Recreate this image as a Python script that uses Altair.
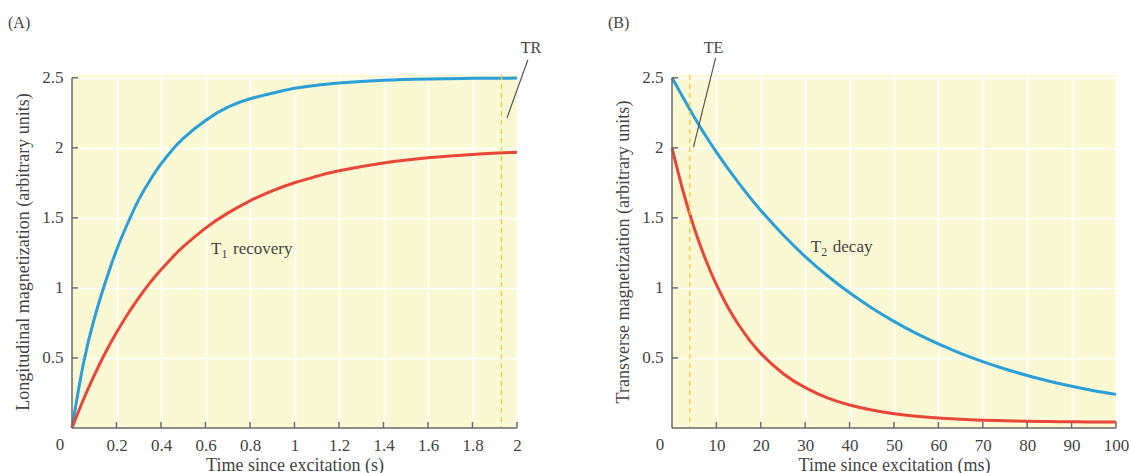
import altair as alt
import pandas as pd

# ---------------- Panel A : T1 recovery (time in s) ----------------
a_time = [0, 0.05, 0.1, 0.15, 0.2, 0.25, 0.3, 0.35, 0.4, 0.45, 0.5, 0.6, 0.7, 0.8, 0.9,
          1.0, 1.1, 1.2, 1.4, 1.6, 1.8, 2.0]
a_blue = [0, 0.45, 0.78, 1.04, 1.27, 1.46, 1.63, 1.767, 1.885, 1.984, 2.068, 2.195, 2.29, 2.35, 2.39,
          2.425, 2.447, 2.463, 2.482, 2.491, 2.496, 2.498]
a_red = [0, 0.198, 0.376, 0.537, 0.681, 0.812, 0.929, 1.036, 1.13, 1.216, 1.294, 1.427, 1.534, 1.622, 1.693,
         1.751, 1.797, 1.836, 1.892, 1.929, 1.953, 1.969]
a_xticks = [0.2, 0.4, 0.6, 0.8, 1.0, 1.2, 1.4, 1.6, 1.8, 2.0]
a_xmax = 2.0
tr_time = 1.93

# ---------------- Panel B : T2 decay (time in ms) ----------------
b_time = [0, 2.5, 5, 7.5, 10, 12.5, 15, 17.5, 20, 25, 30, 35, 40, 45, 50, 55, 60, 65, 70,
          75, 80, 85, 90, 95, 100]
b_blue = [2.50, 2.36, 2.22, 2.09, 1.97, 1.857, 1.75, 1.648, 1.553, 1.379, 1.224, 1.087, 0.965, 0.857, 0.761,
          0.675, 0.600, 0.533, 0.474, 0.421, 0.375, 0.334, 0.298, 0.266, 0.24]
b_red = [2.00, 1.690, 1.428, 1.208, 1.023, 0.868, 0.737, 0.626, 0.533, 0.389, 0.288, 0.215, 0.164, 0.128, 0.102,
         0.084, 0.071, 0.063, 0.056, 0.052, 0.048, 0.046, 0.044, 0.043, 0.042]
b_xticks = [10, 20, 30, 40, 50, 60, 70, 80, 90, 100]
b_xmax = 100
te_time = 4

y_ticks = [0.5, 1, 1.5, 2, 2.5]
series_names = ["fast", "slow"]

BLUE = "#2a9fd8"
RED = "#e8463b"
AXIS = "#6a6a6a"
TEXT = "#444444"
FONT = "Liberation Serif"
H = 353
YMAX = 2.52

ONE = pd.DataFrame({"k": [0]})


def panel(time, blue, red, xticks, xmax, xfmt, marker, marker_label, marker_line,
          ytitle, xtitle, letter, sub_label, width):
    n = len(time)
    df = pd.DataFrame({
        "t": time + time,
        "m": blue + red,
        "s": [series_names[0]] * n + [series_names[1]] * n,
    })
    xs = alt.Scale(domain=[0, xmax], nice=False, zero=False)
    ys = alt.Scale(domain=[0, YMAX], nice=False)

    lines = alt.Chart(df).mark_line(strokeWidth=3, interpolate="natural").encode(
        x=alt.X("t:Q", scale=xs, axis=alt.Axis(
            values=xticks, title=xtitle, format=xfmt, domain=False, ticks=False,
            grid=True, gridColor="#ffffff", gridWidth=1.6, labelPadding=9,
            titlePadding=3, labelOverlap=False, labelFlush=False)),
        y=alt.Y("m:Q", scale=ys, axis=alt.Axis(
            values=y_ticks, title=ytitle, format="~g", domain=False, ticks=False,
            grid=True, gridColor="#ffffff", gridWidth=1.6, labelPadding=9,
            titlePadding=9, labelOverlap=False, labelFlush=False)),
        color=alt.Color("s:N", scale=alt.Scale(domain=series_names, range=[BLUE, RED]), legend=None),
    )

    dashed = alt.Chart(ONE).mark_rule(color="#f2c744", strokeDash=[5, 4], strokeWidth=1.3).encode(
        x=alt.datum(marker)
    )
    yline = alt.Chart(ONE).mark_rule(color=AXIS, strokeWidth=1.5).encode(
        x=alt.datum(0), y=alt.datum(0), y2=alt.datum(2.5)
    )
    xline = alt.Chart(ONE).mark_rule(color=AXIS, strokeWidth=1.5).encode(
        x=alt.datum(0), x2=alt.datum(xmax), y=alt.datum(0)
    )
    xt = alt.Chart(pd.DataFrame({"t": xticks})).mark_rule(color=AXIS, strokeWidth=1.5).encode(
        x="t:Q", y=alt.value(H), y2=alt.value(H - 6)
    )
    yt = alt.Chart(pd.DataFrame({"m": y_ticks})).mark_rule(color=AXIS, strokeWidth=1.5).encode(
        y="m:Q", x=alt.value(0), x2=alt.value(6)
    )

    zero = alt.Chart(ONE).mark_text(text="0", font=FONT, fontSize=17, color=TEXT,
                                    align="center", baseline="top").encode(
        x=alt.value(-12), y=alt.value(H + 9)
    )
    letter_t = alt.Chart(ONE).mark_text(text=letter, font=FONT, fontSize=16, color=TEXT,
                                        align="left", baseline="top").encode(
        x=alt.value(-64), y=alt.value(-60)
    )
    (lx, ly, lx2, ly2) = marker_line
    pointer = alt.Chart(ONE).mark_rule(color="#555555", strokeWidth=1.2).encode(
        x=alt.datum(lx), y=alt.datum(ly), x2=alt.datum(lx2), y2=alt.datum(ly2)
    )
    (mx, my) = marker_label[1]
    mlabel = alt.Chart(ONE).mark_text(text=marker_label[0], font=FONT, fontSize=16, color=TEXT,
                                      align="center", baseline="middle").encode(
        x=alt.datum(mx), y=alt.datum(my)
    )
    (sx, sy, sub, word) = sub_label
    s1 = alt.Chart(ONE).mark_text(text="T", font=FONT, fontSize=17, color=TEXT,
                                  align="left", baseline="middle").encode(
        x=alt.datum(sx), y=alt.datum(sy))
    s2 = alt.Chart(ONE).mark_text(text=sub, font=FONT, fontSize=12, color=TEXT,
                                  align="left", baseline="middle", dx=10.5, dy=5).encode(
        x=alt.datum(sx), y=alt.datum(sy))
    s3 = alt.Chart(ONE).mark_text(text=word, font=FONT, fontSize=17, color=TEXT,
                                  align="left", baseline="middle", dx=22).encode(
        x=alt.datum(sx), y=alt.datum(sy))

    return alt.layer(lines, dashed, yline, xline, xt, yt, zero, letter_t,
                     pointer, mlabel, s1, s2, s3).properties(width=width, height=H)


left = panel(a_time, a_blue, a_red, a_xticks, a_xmax, "~g", tr_time,
             ("TR", (2.063, 2.714)), (2.049, 2.629, 1.955, 2.214),
             "Longitudinal magnetization (arbitrary units)", "Time since excitation (s)",
             "(A)", (0.625, 1.279, "1", "recovery"), 445)

right = panel(b_time, b_blue, b_red, b_xticks, b_xmax, "d", te_time,
              ("TE", (9.37, 2.714)), (9.82, 2.643, 4.85, 2.007),
              "Transverse magnetization (arbitrary units)", "Time since excitation (ms)",
              "(B)", (31.26, 1.293, "2", "decay"), 444)

chart = alt.hconcat(left, right, spacing=66).properties(
    padding={"left": 8, "top": 15, "right": 0, "bottom": 0},
    background="#ffffff",
).configure_view(
    fill="#fbf9d3", stroke=None
).configure_axis(
    labelFont=FONT, labelFontSize=17, labelColor=TEXT,
    titleFont=FONT, titleFontSize=18, titleFontWeight="normal", titleColor=TEXT,
)

chart.save("out.html", embed_options={"renderer": "svg", "actions": False})
